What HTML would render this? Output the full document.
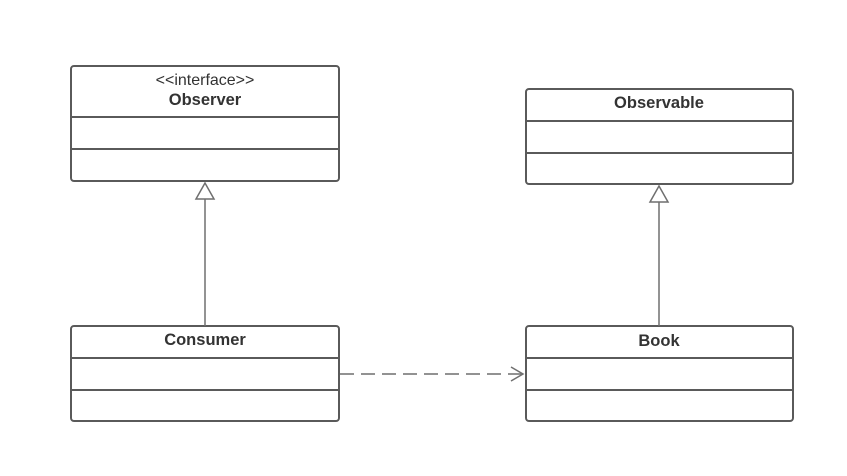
<!DOCTYPE html>
<html><head><style>body{margin:0;background:#fff}</style></head><body>
<svg width="847" height="471" xmlns="http://www.w3.org/2000/svg" font-family="Liberation Sans, sans-serif">
<rect width="847" height="471" fill="#fff"/>
<g fill="none" stroke="#5a5a5a" stroke-width="2">
<rect x="71" y="66" width="268" height="115" rx="3"/>
<line x1="71" y1="117" x2="339" y2="117"/><line x1="71" y1="149" x2="339" y2="149"/>
<rect x="526" y="89" width="267" height="95" rx="3"/>
<line x1="526" y1="121" x2="793" y2="121"/><line x1="526" y1="153" x2="793" y2="153"/>
<rect x="71" y="326" width="268" height="95" rx="3"/>
<line x1="71" y1="358" x2="339" y2="358"/><line x1="71" y1="390" x2="339" y2="390"/>
<rect x="526" y="326" width="267" height="95" rx="3"/>
<line x1="526" y1="358" x2="793" y2="358"/><line x1="526" y1="390" x2="793" y2="390"/>
</g>
<g fill="none" stroke="#6f6f6f" stroke-width="1.5">
<line x1="205" y1="199" x2="205" y2="326"/>
<polygon points="205,183 196,199 214,199" fill="#fff"/>
<line x1="659" y1="202" x2="659" y2="326"/>
<polygon points="659,186 650,202 668,202" fill="#fff"/>
<line x1="340" y1="374" x2="522" y2="374" stroke-dasharray="14,7"/>
<polyline points="511,367 523,374 511,381"/>
</g>
<g fill="#333" font-size="16.5" text-anchor="middle">
<text x="205" y="85" font-size="16">&lt;&lt;interface&gt;&gt;</text>
<text x="205" y="105" font-weight="bold">Observer</text>
<text x="659" y="108" font-weight="bold">Observable</text>
<text x="205" y="345" font-weight="bold">Consumer</text>
<text x="659" y="346" font-weight="bold">Book</text>
</g>
</svg>
</body></html>
